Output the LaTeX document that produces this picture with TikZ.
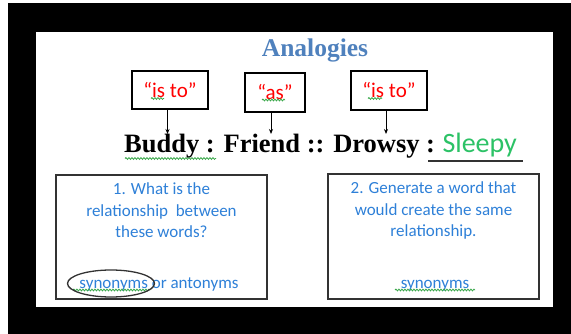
\documentclass[tikz,border=0pt]{standalone}
\usepackage{fontspec}
\setmainfont{Liberation Serif}
\newfontfamily\carl{Carlito}
\usetikzlibrary{decorations.pathmorphing,arrows.meta,shapes.geometric}
\definecolor{titleblue}{HTML}{4F81BD}
\definecolor{txtblue}{HTML}{2E80D8}
\definecolor{wordred}{HTML}{FF0000}
\definecolor{sleepgreen}{HTML}{2CC266}
\definecolor{squig}{HTML}{3AA84A}
\definecolor{boxgray}{HTML}{333333}
\tikzset{
  redbox/.style={draw=black, line width=1.4pt, minimum height=38pt, inner sep=0pt, text=wordred, font=\carl\fontsize{21}{24}\selectfont},
  qbox/.style={draw=boxgray, line width=1.5pt},
  qtext/.style={text=txtblue, font=\carl\fontsize{17}{21.5}\selectfont, align=center, inner sep=0pt},
  conn/.style={line width=1pt, -{Stealth[length=5pt,width=4pt]}},
  squiggle/.style={draw=squig, line width=0.8pt, decorate, decoration={snake, amplitude=0.9pt, segment length=3pt}},
}
\begin{document}
\begin{tikzpicture}[x=1pt,y=-1pt]
\useasboundingbox (0,0) rectangle (571,334);
\fill[white] (0,0) rectangle (571,334);
\fill[black] (8,3) rectangle (571,334);
\fill[white] (36,32) rectangle (553,307);
% title
\node[text=titleblue, font=\bfseries\fontsize{25.5}{28}\selectfont, inner sep=0pt, anchor=base] (title) at (315,57) {Analogies};
% small boxes
\node[redbox, minimum width=76pt] (b1) at (170,90) {“is to”};
\node[redbox, minimum width=60pt, minimum height=39pt] (b2) at (275,92.5) {“as”};
\node[redbox, minimum width=76pt, minimum height=39pt] (b3) at (389,90.5) {“is to”};
\coordinate (a1) at (167.5,134);
\coordinate (a2) at (271,134);
\coordinate (a3) at (386,134);
\draw[conn] (b1.south -| a1) -- (a1);
\draw[conn] (b2.south -| a2) -- (a2);
\draw[conn] (b3.south -| a3) -- (a3);
% squiggles under box words
\draw[squiggle] (151,98.5) -- (164,98.5);
\draw[squiggle] (262,100) -- (285,100);
\draw[squiggle] (368,98.5) -- (382,98.5);
% main line
\node[anchor=base west, inner sep=0pt, font=\bfseries\fontsize{26.5}{30}\selectfont] (main) at (124,153) {Buddy : Friend :: Drowsy :};
\node[anchor=base west, inner sep=0pt, text=sleepgreen, font=\carl\fontsize{28}{32}\selectfont] (sleepy) at ([xshift=7pt]main.base east) {Sleepy};
\coordinate (u1) at (428,161);
\coordinate (u2) at (523,161);
\draw[line width=1.5pt, draw=boxgray] (u1) -- (u2);
\draw[squiggle] (125,158.5) -- (216,158.5);
% question boxes
\draw[qbox] (56,175) rectangle (267,299);
\draw[qbox] (328,174) rectangle (539,299);
\node[qtext] (q1) at (161.5,210.5) {1. What is the\\relationship\ \ between\\these words?};
\node[qtext, anchor=base] (q1a) at (159,288) {synonyms or antonyms};
\node[qtext] (q2) at (433.5,210.5) {2. Generate a word that\\would create the same\\relationship.};
\node[qtext, anchor=base] (q2a) at (435,288) {synonyms};
\draw[squiggle] (73,290) -- (150,290);
\draw[squiggle] (395,290) -- (475,290);
\node[draw=boxgray, line width=1.3pt, ellipse, minimum width=87pt, minimum height=27pt, inner sep=0pt] (ell) at (111,283.5) {};
\end{tikzpicture}
\end{document}
